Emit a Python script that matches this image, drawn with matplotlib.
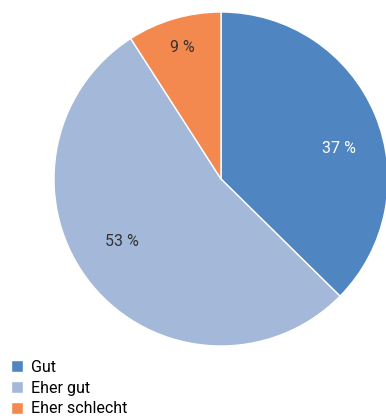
import numpy as np
import matplotlib.pyplot as plt

categories = ["Gut", "Eher gut", "Eher schlecht"]
shares = [37, 53, 9]
colors = ["#4f86c1", "#a4b8da", "#f4894f"]
text_colors = ["white", "#333333", "#333333"]
# where each percentage sits: radius and angular nudge from the wedge centre
label_r = [0.73, 0.70, 0.82]
label_shift = [-8, -7, 0]

plt.rcParams["font.family"] = ["Roboto", "DejaVu Sans"]

fig = plt.figure(figsize=(3.86, 4.2), dpi=100)
ax = fig.add_axes([54 / 386, 74 / 420, 334 / 386, 334 / 420])

wedges, _ = ax.pie(
    shares, colors=colors, startangle=90, counterclock=False,
    wedgeprops=dict(edgecolor="white", linewidth=1),
)
for w, v, c, r, d in zip(wedges, shares, text_colors, label_r, label_shift):
    a = np.deg2rad((w.theta1 + w.theta2) / 2 + d)
    ax.text(r * np.cos(a), r * np.sin(a), f"{v} %", color=c, fontsize=11.5,
            ha="center", va="center")
ax.set_xlim(-1, 1)
ax.set_ylim(-1, 1)

fig.legend(wedges, categories, loc="lower left", bbox_to_anchor=(0.0, -0.018),
           frameon=False, handlelength=0.75, handleheight=0.75,
           handletextpad=0.5, labelspacing=0.36, borderaxespad=0.3,
           prop=dict(size=11.5))

fig.savefig("out.png", dpi=100)
